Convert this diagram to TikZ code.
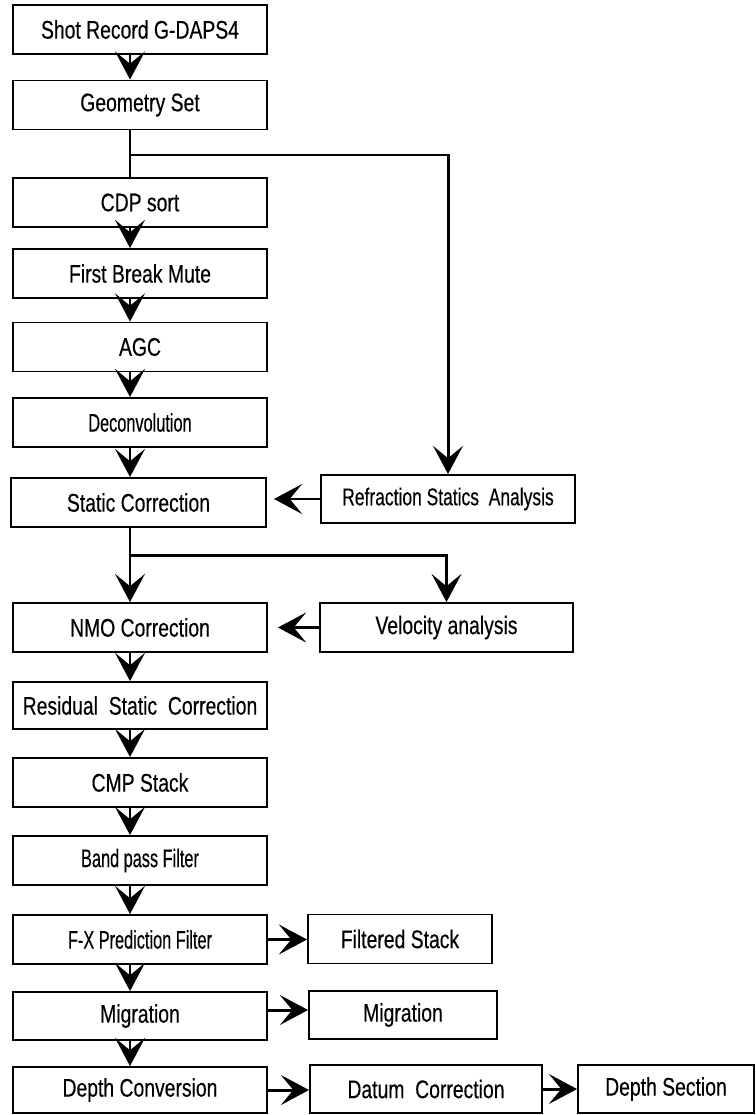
\documentclass[tikz,border=0pt]{standalone}
\usepackage{fontspec}
\setmainfont{Liberation Sans}[FakeStretch=0.76, FakeBold=0.3]
\newfontfamily\narrowfont{Liberation Sans}[FakeStretch=0.64, FakeBold=0.3]
\newfontfamily\midfont{Liberation Sans}[FakeStretch=0.72, FakeBold=0.3]
\usetikzlibrary{arrows.meta}

\begin{document}
\begin{tikzpicture}[x=0.02cm, y=-0.02cm]
    \useasboundingbox (0,0) rectangle (756,1115);
    \tikzstyle{every node}=[rectangle, draw=black, line width=1.1pt, minimum width=5.08cm, minimum height=0.98cm, inner sep=0pt, font=\fontsize{14.5}{17}\selectfont, text=black]
    \tikzstyle{edge}=[black, line width=1.7pt, -{Stealth[length=16pt, width=17pt, inset=7pt]}]

    % main column
    \node (shot) at (140,29.5) {Shot Record G-DAPS4};
    \node (geom) at (140,105) {Geometry Set};
    \node (cdp) at (140,202.5) {CDP sort};
    \node (fbm) at (140,273.5) {First Break Mute};
    \node (agc) at (140,347) {AGC};
    \node[font=\fontsize{14.5}{17}\narrowfont] (decon) at (140,422.5) {Deconvolution};
    \node[minimum width=5.10cm] (static) at (138.5,502.5) {Static Correction};
    \node (nmo) at (140,627.5) {NMO Correction};
    \node[minimum height=0.94cm] (resid) at (140,705.5) {Residual\ \ Static\ \ Correction};
    \node (cmp) at (140,782.5) {CMP Stack};
    \node[font=\fontsize{14.5}{17}\narrowfont] (band) at (140,860.5) {Band pass Filter};
    \node[font=\fontsize{14.5}{17}\narrowfont] (fx) at (140,939.5) {F-X Prediction Filter};
    \node[minimum height=0.96cm] (mig) at (140,1016) {Migration};
    \node[minimum height=0.92cm] (depth) at (140,1090) {Depth Conversion};

    % side boxes
    \node[minimum height=0.96cm, font=\fontsize{13.8}{16}\midfont] (refr) at (448,499) {Refraction Statics\ \ Analysis};
    \node[minimum width=5.06cm] (velo) at (446.5,627.5) {Velocity analysis};
    \node[minimum width=3.68cm] (filt) at (400,939) {Filtered Stack};
    \node[minimum width=3.76cm, minimum height=0.96cm] (mig2) at (403,1015) {Migration};
    \node[minimum width=4.64cm, minimum height=0.96cm] (datum) at (426,1089) {Datum\ \ Correction};
    \node[minimum width=3.52cm, minimum height=0.96cm] (dsec) at (666,1089) {Depth Section};

    \coordinate (col) at (130,0);
    \coordinate (b1) at (130,155);
    \coordinate (b2) at (130,555);

    \draw[edge] (shot.south -| col) -- (geom.north -| col);
    \draw[edge, -] (geom.south -| col) -- (cdp.north -| col);
    \draw[edge] (b1) -| (refr.north);
    \draw[edge] (cdp.south -| col) -- (fbm.north -| col);
    \draw[edge] (fbm.south -| col) -- (agc.north -| col);
    \draw[edge] (agc.south -| col) -- (decon.north -| col);
    \draw[edge] (decon.south -| col) -- (static.north -| col);
    \draw[edge] (refr.west) -- ([xshift=0.14cm]refr.west -| static.east);
    \draw[edge] (static.south -| col) -- (nmo.north -| col);
    \draw[edge] (b2) -| (velo.north);
    \draw[edge] (velo.west) -- ([xshift=0.2cm]velo.west -| nmo.east);
    \draw[edge] (nmo.south -| col) -- (resid.north -| col);
    \draw[edge] (resid.south -| col) -- (cmp.north -| col);
    \draw[edge] (cmp.south -| col) -- (band.north -| col);
    \draw[edge] (band.south -| col) -- (fx.north -| col);
    \draw[edge] (fx.east) -- (fx.east -| filt.west);
    \draw[edge] (fx.south -| col) -- (mig.north -| col);
    \draw[edge] ([yshift=0.12cm]mig.east) -- ([yshift=0.12cm]mig.east -| mig2.west);
    \draw[edge] (mig.south -| col) -- (depth.north -| col);
    \draw[edge] (depth.east) -- (depth.east -| datum.west);
    \draw[edge] (datum.east) -- (datum.east -| dsec.west);
\end{tikzpicture}
\end{document}
